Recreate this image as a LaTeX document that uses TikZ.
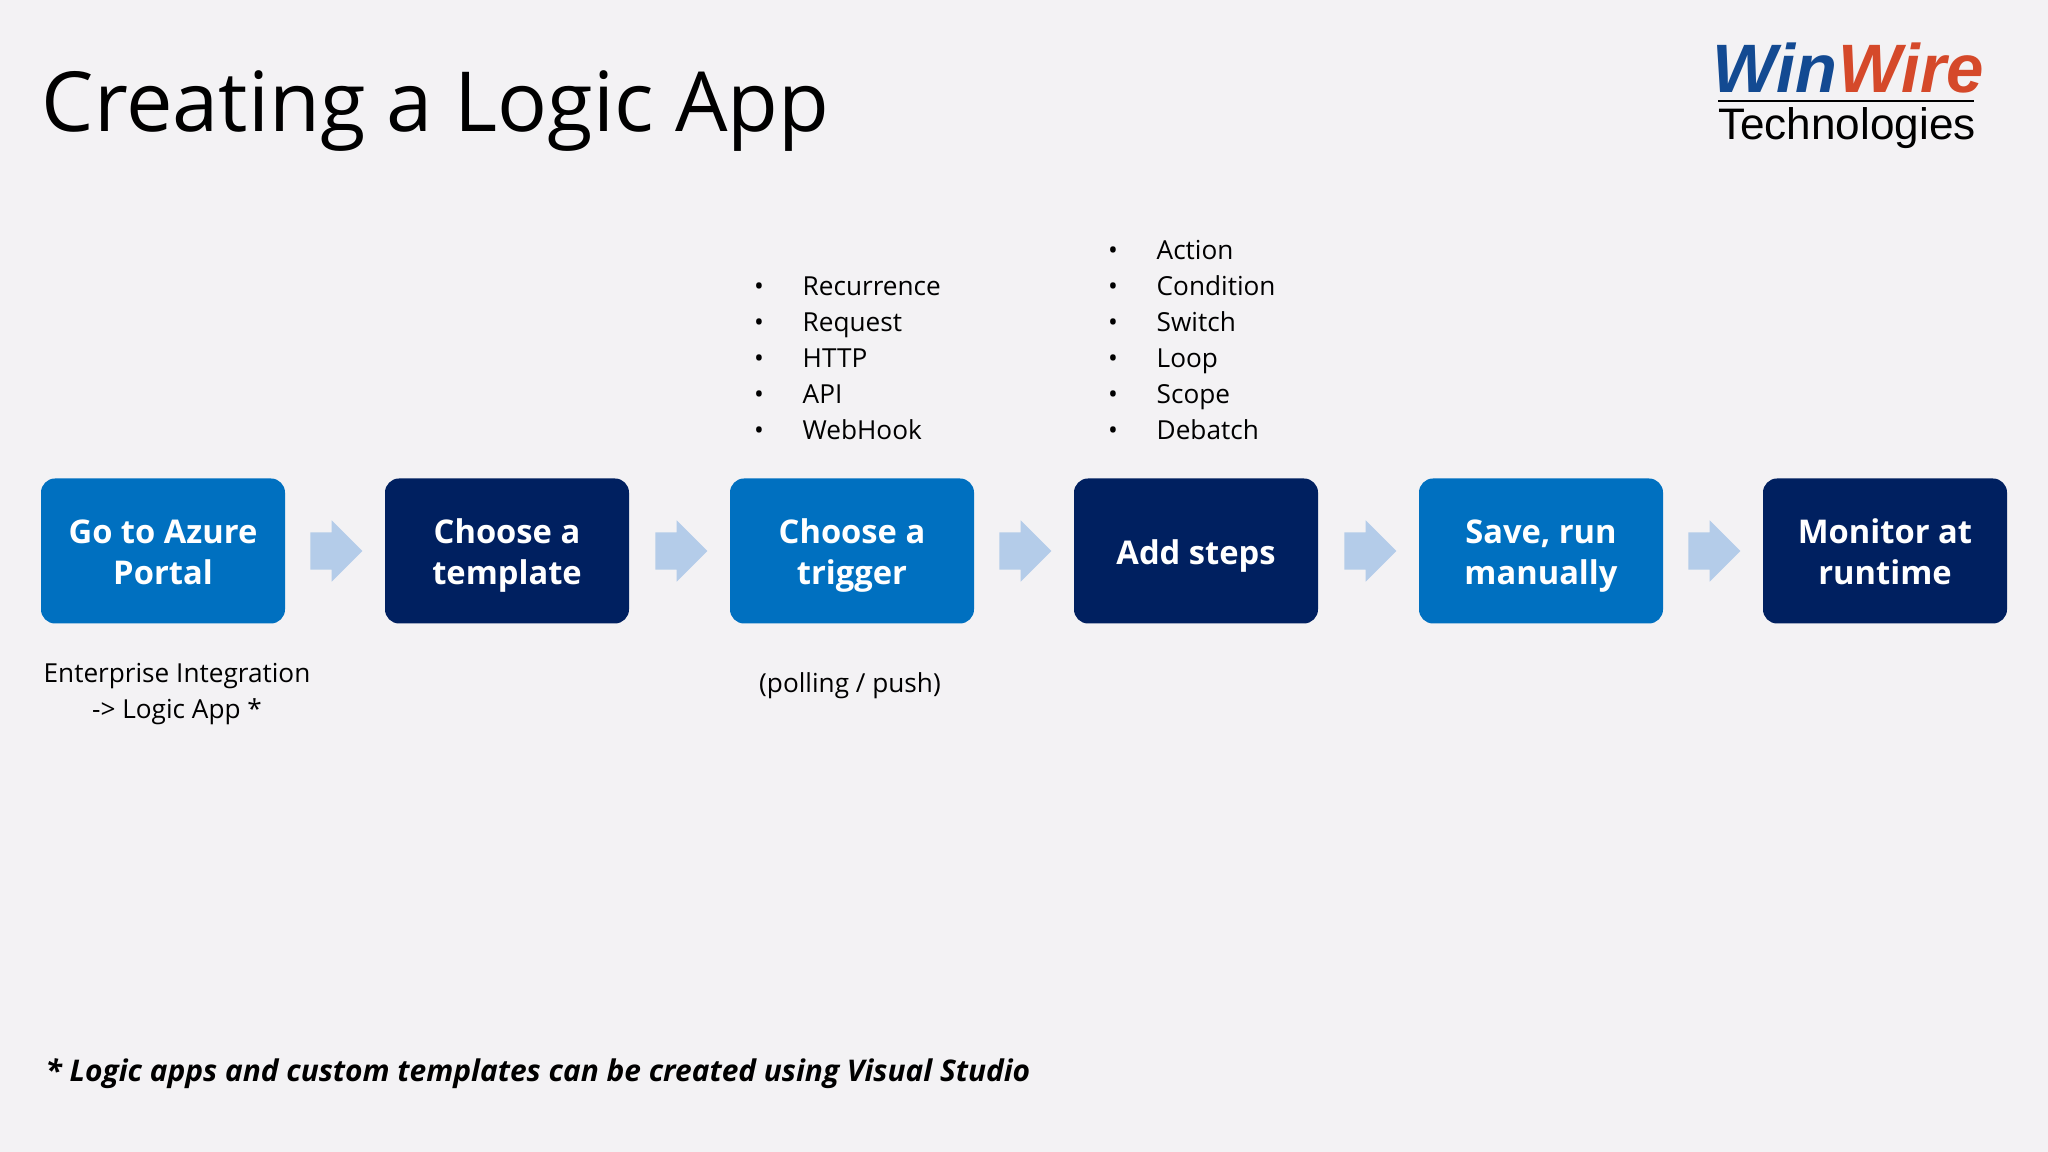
\documentclass[tikz,border=0pt]{standalone}
\usepackage{fontspec}
\setmainfont{Open Sans}
\newfontfamily\logofont{Liberation Sans}
\definecolor{pagebg}{HTML}{F3F2F4}
\definecolor{lightblue}{HTML}{0070C0}
\definecolor{darkblue}{HTML}{002060}
\definecolor{arrowblue}{HTML}{B4CCE9}
\definecolor{winblue}{HTML}{134A92}
\definecolor{wirered}{HTML}{D5492A}
\usetikzlibrary{shapes.arrows}
\tikzset{
  stepbox/.style={rounded corners=4pt,minimum width=2.44cm,minimum height=1.45cm,inner sep=0pt,align=center,text=white,
    font=\fontsize{9.3}{11.6}\selectfont\bfseries},
  tworow/.style={execute at begin node=\rule{0pt}{22.6pt}},
  onerow/.style={execute at begin node=\rule{0pt}{11pt}},
  lightbox/.style={stepbox,fill=lightblue},
  darkbox/.style={stepbox,fill=darkblue},
  blockarrow/.style={single arrow,fill=arrowblue,inner sep=0pt,text height=0.36cm,text depth=0pt,minimum width=0.6cm,minimum height=0.52cm,
    single arrow head extend=0.12cm,single arrow tip angle=90},
  note/.style={inner sep=0pt,align=center,font=\fontsize{7.45}{10.15}\selectfont},
  item/.style={inner sep=0pt,anchor=west,text height=6pt,text depth=2pt,font=\fontsize{7.45}{10}\selectfont},
  dot/.style={inner sep=0pt,text height=6pt,text depth=2pt,font=\fontsize{7.45}{10}\selectfont}
}
\begin{document}
\begin{tikzpicture}

    \useasboundingbox[fill=pagebg] (0,0) rectangle (20.48,11.52);

    % title and logo
    \node[inner sep=0pt,anchor=west,font=\fontsize{23.6}{28}\selectfont] (title) at (0.41,10.41) {Creating a Logic App};
    \node[inner sep=0pt,anchor=west,text=winblue,font=\logofont\fontsize{19.5}{22}\selectfont\bfseries\itshape] (win) at (17.12,10.84) {Win};
    \node[inner sep=0pt,anchor=west,xscale=0.98,text=wirered,font=\logofont\fontsize{19.5}{22}\selectfont\bfseries\itshape] (wire) at (18.38,10.84) {Wire};
    \node[inner sep=0pt,font=\logofont\fontsize{12.55}{14}\selectfont] (tech) at (18.47,10.24) {Technologies};
    \coordinate (ruleleft) at (17.18,10.51);
    \coordinate (ruleright) at (19.74,10.51);
    \draw[line width=0.6pt] (ruleleft) -- (ruleright);

    % these are the steps
    \node[lightbox,tworow] (portal) at (1.63,6.01) {Go to Azure\strut\\Portal\strut};
    \node[darkbox,tworow] (template) at (5.07,6.01) {Choose a\strut\\template\strut};
    \node[lightbox,tworow] (trigger) at (8.52,6.01) {Choose a\strut\\trigger\strut};
    \node[darkbox,onerow] (addsteps) at (11.96,6.01) {Add steps\strut};
    \node[lightbox,tworow] (save) at (15.41,6.01) {Save, run\strut\\manually\strut};
    \node[darkbox,tworow] (monitor) at (18.85,6.01) {Monitor at\strut\\runtime\strut};

    % these are the arrows
    \node[blockarrow] (arrowa) at (3.27,6.01) {};
    \node[blockarrow] (arrowb) at (6.72,6.01) {};
    \node[blockarrow] (arrowc) at (10.16,6.01) {};
    \node[blockarrow] (arrowd) at (13.61,6.01) {};
    \node[blockarrow] (arrowe) at (17.05,6.01) {};

    % triggers
    \node[dot] (dota) at (7.59,8.635) {•};
    \node[dot] (dotb) at (7.59,8.275) {•};
    \node[dot] (dotc) at (7.59,7.915) {•};
    \node[dot] (dotd) at (7.59,7.555) {•};
    \node[dot] (dote) at (7.59,7.195) {•};
    \node[item] (recurrence) at (8.02,8.635) {Recurrence};
    \node[item] (request) at (8.02,8.275) {Request};
    \node[item] (http) at (8.02,7.915) {HTTP};
    \node[item] (api) at (8.02,7.555) {API};
    \node[item] (webhook) at (8.02,7.195) {WebHook};

    % actions
    \node[dot] (dotf) at (11.13,8.995) {•};
    \node[dot] (dotg) at (11.13,8.635) {•};
    \node[dot] (doth) at (11.13,8.275) {•};
    \node[dot] (doti) at (11.13,7.915) {•};
    \node[dot] (dotj) at (11.13,7.555) {•};
    \node[dot] (dotk) at (11.13,7.195) {•};
    \node[item] (action) at (11.56,8.995) {Action};
    \node[item] (condition) at (11.56,8.635) {Condition};
    \node[item] (switch) at (11.56,8.275) {Switch};
    \node[item] (loop) at (11.56,7.915) {Loop};
    \node[item] (scope) at (11.56,7.555) {Scope};
    \node[item] (debatch) at (11.56,7.195) {Debatch};

    % notes
    \node[note] (integration) at (1.77,4.58) {Enterprise Integration\\-> Logic App *};
    \node[note] (polling) at (8.50,4.66) {(polling / push)};
    \node[inner sep=0pt,anchor=west,font=\fontsize{8.5}{11}\selectfont\bfseries\itshape] (footnote) at (0.45,0.78) {* Logic apps and custom templates can be created using Visual Studio};

\end{tikzpicture}
\end{document}
